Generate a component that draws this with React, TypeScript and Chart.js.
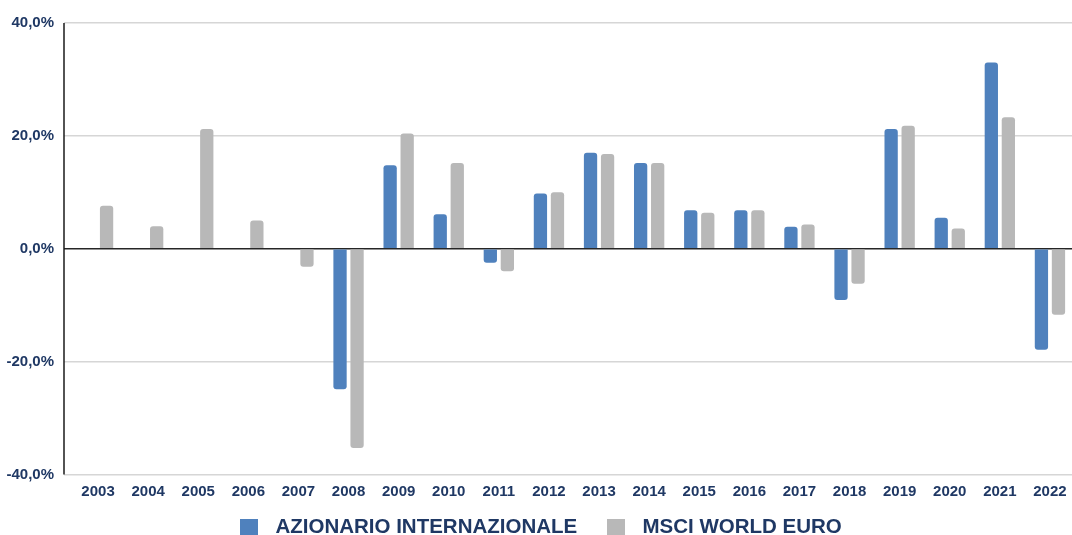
import React, { useEffect, useRef } from 'react';
import { Chart, registerables } from 'chart.js';

Chart.register(...registerables);

const years = ['2003', '2004', '2005', '2006', '2007', '2008', '2009', '2010', '2011', '2012', '2013', '2014', '2015', '2016', '2017', '2018', '2019', '2020', '2021', '2022'];
const azionario = [null, null, null, null, null, -24.9, 14.8, 6.1, -2.5, 9.8, 17.0, 15.2, 6.8, 6.8, 3.9, -9.1, 21.2, 5.5, 33.0, -17.9];
const msciWorld = [7.6, 4.0, 21.2, 5.0, -3.2, -35.3, 20.4, 15.2, -4.0, 10.0, 16.8, 15.2, 6.4, 6.8, 4.3, -6.2, 21.8, 3.6, 23.3, -11.7];
const yTicks = [-40, -20, 0, 20, 40];
const seriesNames = ['AZIONARIO INTERNAZIONALE', 'MSCI WORLD EURO'];
const seriesColors = ['#4f81bd', '#b8b8b8'];

const NAVY = '#1f3864';
const FONT = "'Liberation Sans', Arial, sans-serif";

function swatch(color: string) {
  const c = document.createElement('canvas');
  c.width = 18;
  c.height = 18;
  const ctx = c.getContext('2d')!;
  ctx.fillStyle = color;
  ctx.fillRect(0, 0, 18, 18);
  return c;
}

const axisLinePlugin = {
  id: 'axisLine',
  afterLayout(chart: any) {
    const lg = chart.legend;
    if (lg) {
      lg.top -= 7;
      lg.bottom -= 7;
    }
  },
  afterDatasetsDraw(chart: any) {
    const { ctx, chartArea } = chart;
    ctx.save();
    ctx.strokeStyle = '#1a1a1a';
    ctx.lineWidth = 1.5;
    ctx.beginPath();
    ctx.moveTo(chartArea.left - 9, chartArea.top);
    ctx.lineTo(chartArea.left - 9, chartArea.bottom);
    ctx.stroke();
    ctx.restore();
  },
};

export default function App() {
  const ref = useRef<HTMLCanvasElement>(null);

  useEffect(() => {
    if (!ref.current) return;
    const swatches = seriesColors.map(swatch);
    const chart = new Chart(ref.current, {
      type: 'bar',
      data: {
        labels: years,
        datasets: [
          {
            label: seriesNames[0],
            data: azionario,
            backgroundColor: seriesColors[0],
            borderRadius: 3,
            categoryPercentage: 0.68,
            barPercentage: 0.78,
          },
          {
            label: seriesNames[1],
            data: msciWorld,
            backgroundColor: seriesColors[1],
            borderRadius: 3,
            categoryPercentage: 0.68,
            barPercentage: 0.78,
          },
        ],
      },
      options: {
        responsive: false,
        animation: false,
        devicePixelRatio: 1,
        layout: { padding: { top: 23, right: 5, left: 0, bottom: 0 } },
        plugins: {
          tooltip: { enabled: false },
          legend: {
            position: 'bottom',
            labels: {
              usePointStyle: true,
              pointStyleWidth: 32,
              boxHeight: 18,
              padding: 23,
              color: NAVY,
              font: { family: FONT, size: 20.5, weight: 'bold' },
              generateLabels: (c: any) => {
                const items = Chart.defaults.plugins.legend.labels.generateLabels(c);
                return items.map((it: any, i: number) => ({ ...it, pointStyle: swatches[i] }));
              },
            },
          },
        },
        scales: {
          x: {
            grid: { display: false, drawTicks: false },
            border: { display: false },
            ticks: {
              color: NAVY,
              padding: 8,
              maxRotation: 0,
              autoSkip: false,
              font: { family: FONT, size: 15, weight: 'bold' },
            },
            afterFit: (s: any) => {
              s.height = 27;
            },
          },
          y: {
            min: -40,
            max: 40,
            afterBuildTicks: (s: any) => {
              s.ticks = yTicks.map((v) => ({ value: v }));
            },
            grid: {
              color: (ctx: any) => (ctx.tick && ctx.tick.value === 0 ? '#262626' : '#d6d6d6'),
              tickColor: (ctx: any) => (ctx.tick && ctx.tick.value === 0 ? '#262626' : '#d6d6d6'),
              lineWidth: 1.5,
              tickLength: 9,
              drawTicks: true,
            },
            border: { display: false },
            ticks: {
              color: NAVY,
              padding: 10,
              font: { family: FONT, size: 15, weight: 'bold' },
              callback: (v: any) => Number(v).toFixed(1).replace('.', ',') + '%',
            },
            afterFit: (s: any) => {
              s.width = 73;
            },
          },
        },
      },
      plugins: [axisLinePlugin],
    } as any);
    return () => chart.destroy();
  }, []);

  return (
    <div style={{ position: 'fixed', left: 0, top: 0, width: 1072, height: 535, overflow: 'hidden', background: '#fff' }}>
      <canvas ref={ref} width={1080} height={555} style={{ display: 'block' }} />
    </div>
  );
}
